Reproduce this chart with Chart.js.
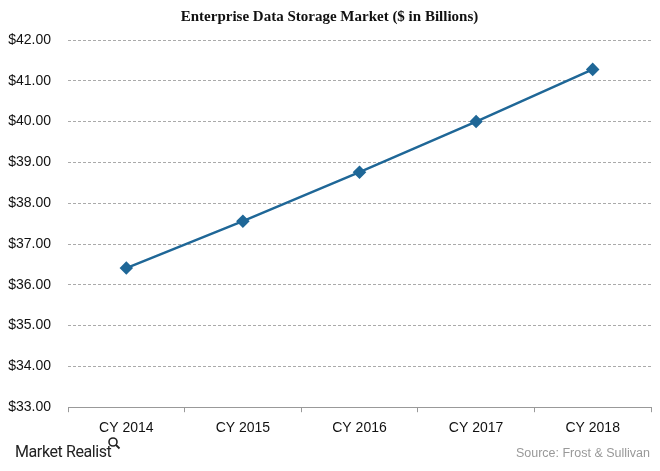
<!DOCTYPE html>
<html>
<head>
<meta charset="utf-8">
<script src="https://cdn.jsdelivr.net/npm/chart.js@4"></script>
<style>
  body { margin: 0; background: #fff; }
  #wrap { position: relative; width: 660px; height: 471px; }
  #logo { position: absolute; left: 15px; top: 442px; font-family: Roboto, sans-serif; font-size: 16px; color: #222; letter-spacing: -0.4px; }
  #logo svg { position: absolute; left: 92px; top: -6px; }
  #source { position: absolute; right: 10px; top: 446px; font-family: "Liberation Sans", Arial, sans-serif; font-size: 12.5px; color: #999; }
</style>
</head>
<body>
<div id="wrap">
  <canvas id="graph" width="660" height="471"></canvas>
  <div id="logo">Market Realist<svg width="14" height="14" viewBox="0 0 14 14"><circle cx="6" cy="6" r="4" fill="none" stroke="#222" stroke-width="1.6"/><line x1="9" y1="9" x2="12.5" y2="12.5" stroke="#222" stroke-width="1.8"/></svg></div>
  <div id="source">Source: Frost &amp; Sullivan</div>
</div>
<script>
// chart data
const years = ['CY 2014', 'CY 2015', 'CY 2016', 'CY 2017', 'CY 2018'];
const marketSize = [36.41, 37.56, 38.76, 40.0, 41.28];
const yMin = 33;
const yMax = 42;

const lineColor = '#1f6797';

const ctx = document.getElementById('graph').getContext('2d');
new Chart(ctx, {
  type: 'line',
  data: {
    labels: years,
    datasets: [{
      label: 'Enterprise Data Storage Market',
      data: marketSize,
      borderColor: lineColor,
      backgroundColor: lineColor,
      borderWidth: 2.5,
      pointStyle: 'rectRot',
      pointRadius: 5,
      pointHoverRadius: 5,
      tension: 0
    }]
  },
  options: {
    responsive: false,
    animation: false,
    layout: {
      padding: { left: 8, right: 9, top: 8, bottom: 26 }
    },
    plugins: {
      legend: { display: false },
      tooltip: { enabled: false },
      title: {
        display: true,
        text: 'Enterprise Data Storage Market ($ in Billions)',
        color: '#111',
        font: { family: '"Liberation Serif", "Times New Roman", serif', size: 15, weight: 'bold' },
        padding: { top: 0, bottom: 14 }
      }
    },
    scales: {
      x: {
        offset: true,
        grid: {
          offset: true,
          drawOnChartArea: false,
          drawTicks: true,
          tickLength: 5,
          color: '#999'
        },
        border: { display: true, color: '#999' },
        ticks: {
          color: '#111',
          padding: 8,
          font: { family: '"Liberation Sans", Arial, sans-serif', size: 14 }
        }
      },
      y: {
        min: yMin,
        max: yMax,
        afterFit: scale => { scale.width = 60; },
        grid: {
          color: '#aaa',
          drawTicks: false
        },
        border: { display: false, dash: [3, 2] },
        ticks: {
          stepSize: 1,
          color: '#111',
          padding: 17,
          font: { family: '"Liberation Sans", Arial, sans-serif', size: 14 },
          callback: value => '$' + value.toFixed(2)
        }
      }
    }
  }
});
</script>
</body>
</html>
